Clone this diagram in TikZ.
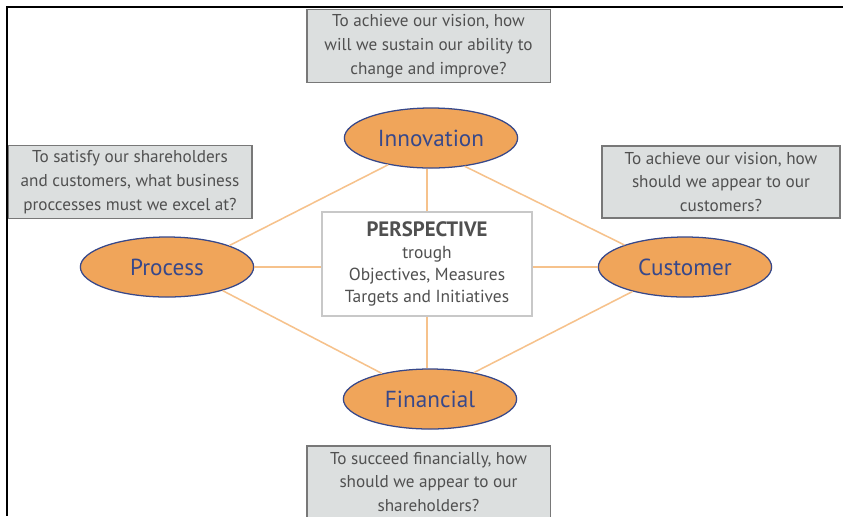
\documentclass[tikz,border=0pt]{standalone}
\usepackage{fontspec}
\setmainfont{PT Sans}
\usetikzlibrary{shapes.geometric}
\definecolor{ovalfill}{RGB}{240,165,90}
\definecolor{ovalline}{RGB}{55,72,138}
\definecolor{linkline}{RGB}{246,194,140}
\definecolor{qfill}{RGB}{220,223,223}
\definecolor{qline}{RGB}{120,120,120}
\definecolor{qtext}{RGB}{80,80,80}
\begin{document}
\begin{tikzpicture}[x=0.025cm,y=-0.025cm,
  oval/.style={ellipse,draw=ovalline,fill=ovalfill,line width=0.9pt,minimum width=4.33cm,minimum height=1.5cm,text=ovalline,font=\fontsize{16.5}{18}\selectfont},
  question/.style={rectangle,draw=qline,fill=qfill,line width=0.9pt,minimum width=6.08cm,minimum height=1.8cm,align=center,text=qtext,font=\fontsize{12.2}{17}\selectfont},
  link/.style={draw=linkline,line width=1.1pt}]
\useasboundingbox (0,0) rectangle (843,516);
\clip (0,0) rectangle (843,516);
\node[question] (qinno) at (428.5,46) {To achieve our vision, how\\will we sustain our ability to\\change and improve?};
\node[question,minimum width=6.1cm] (qproc) at (130,182) {To satisfy our shareholders\\and customers, what business\\proccesses must we excel at?};
\node[question,minimum width=5.95cm] (qcust) at (721,182) {To achieve our vision, how\\should we appear to our\\customers?};
\node[question] (qfin) at (428.5,482) {To succeed financially, how\\should we appear to our\\shareholders?};
\node[oval] (inno) at (431,138) {Innovation};
\node[oval] (proc) at (167,267) {Process};
\node[oval] (cust) at (685,267) {Customer};
\node[oval] (fin) at (430,399) {Financial};
\node[rectangle,draw={rgb,255:red,200;green,200;blue,200},fill=white,line width=0.9pt,minimum width=5.25cm,minimum height=2.6cm,align=center,text=qtext,font=\fontsize{12.4}{15.6}\selectfont] (persp) at (427,264) {{\bfseries\fontsize{14.8}{15.6}\selectfont PERSPECTIVE}\\trough\\Objectives, Measures\\Targets and Initiatives};
\draw[link] (inno.212) -- (proc.19);
\draw[link] (inno.320) -- (cust.160);
\draw[link] (proc.337) -- (fin.152);
\draw[link] (cust.205) -- (fin.31);
\draw[link] (persp.north) -- (persp.north |- inno.south);
\draw[link] (persp.south) -- (persp.south |- fin.north);
\draw[link] (proc.east) -- (proc.east -| persp.west);
\draw[link] (persp.east |- cust.west) -- (cust.west);
\draw[line width=1.6pt] (843,7) -- (7,7) -- (7,516);
\end{tikzpicture}
\end{document}
